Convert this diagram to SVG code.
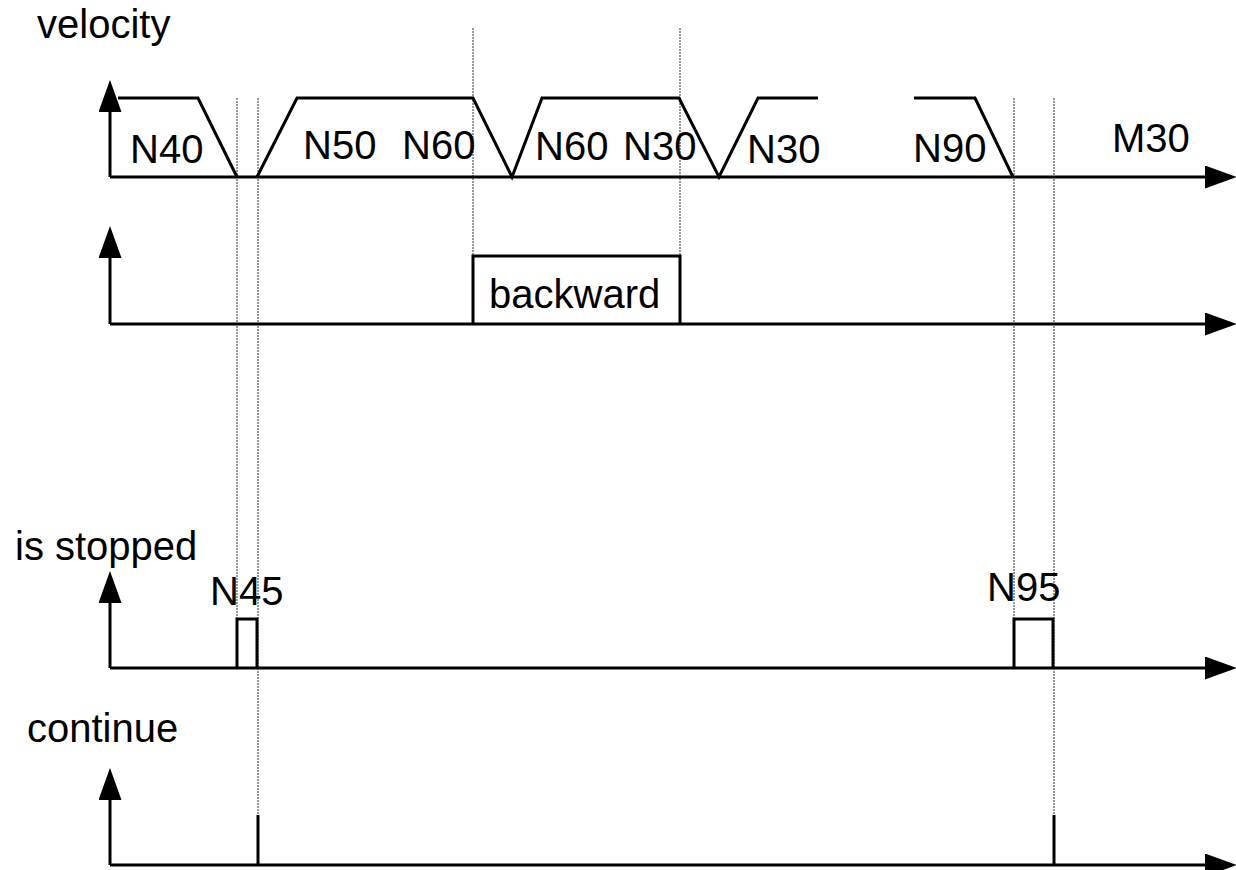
<svg xmlns="http://www.w3.org/2000/svg" width="1236" height="870" viewBox="0 0 1236 870">
<style>
.ax{fill:none;stroke:#000;stroke-width:3;marker-end:url(#arr)}
.tr{fill:none;stroke:#000;stroke-width:3;stroke-linejoin:miter}
.guide{fill:none;stroke:#333;stroke-width:1;stroke-dasharray:2 1}
text{font-family:"Liberation Sans",Arial,sans-serif;font-size:40px;fill:#000}
</style>
<defs>
<marker id="arr" markerUnits="userSpaceOnUse" markerWidth="33" markerHeight="24" refX="0" refY="11.5" orient="auto">
<path d="M0,0 L32,11.5 L0,23 Z" fill="#000"/>
</marker>
</defs>
<rect width="1236" height="870" fill="#fff"/>
<g id="guides">
<line class="guide" x1="237" y1="98" x2="237" y2="668"/>
<line class="guide" x1="258" y1="98" x2="258" y2="815"/>
<line class="guide" x1="473" y1="28" x2="473" y2="256"/>
<line class="guide" x1="680" y1="28" x2="680" y2="256"/>
<line class="guide" x1="1014" y1="98" x2="1014" y2="668"/>
<line class="guide" x1="1054" y1="98" x2="1054" y2="815"/>
</g>
<g id="velocity">
<text x="37" y="38">velocity</text>
<path class="ax" d="M110,177 V112"/>
<path class="ax" d="M110,177 H1205"/>
<path class="tr" d="M118,98 H198 L237,177"/>
<path class="tr" d="M257,177 L297,98 H473 L512,177 L542,98 H679 L719,177 L758,98 H818"/>
<path class="tr" d="M914,98 H975 L1013,177"/>
<text x="130" y="163">N40</text>
<text x="303" y="159">N50</text>
<text x="402" y="159">N60</text>
<text x="535" y="160">N60</text>
<text x="623" y="160">N30</text>
<text x="747" y="163">N30</text>
<text x="913" y="162">N90</text>
<text x="1112" y="152">M30</text>
</g>
<g id="direction">
<path class="ax" d="M110,324 V258"/>
<path class="ax" d="M110,324 H1205"/>
<path class="tr" d="M473,324 V256 H680 V324"/>
<text x="489" y="308">backward</text>
</g>
<g id="stopped">
<text x="15" y="560">is stopped</text>
<path class="ax" d="M110,668 V603"/>
<path class="ax" d="M110,668 H1205"/>
<path class="tr" d="M237,668 V619 H257 V668"/>
<path class="tr" d="M1014,668 V619 H1053 V668"/>
<text x="210" y="605">N45</text>
<text x="987" y="601">N95</text>
</g>
<g id="continue">
<text x="27" y="742">continue</text>
<path class="ax" d="M110,865 V800"/>
<path class="ax" d="M110,865 H1205"/>
<path class="tr" d="M258,865 V815"/>
<path class="tr" d="M1054,865 V815"/>
</g>
</svg>
